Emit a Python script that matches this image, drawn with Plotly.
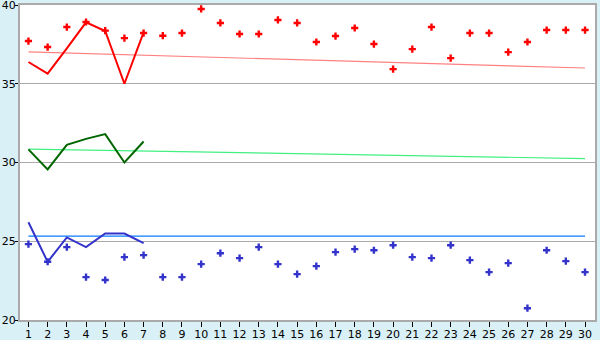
import plotly.graph_objects as go

days = list(range(1, 31))
red_points = [37.71, 37.33, 38.60, 38.92, 38.37, 37.90, 38.22, 38.05, 38.22, 39.75,
              38.86, 38.16, 38.16, 39.05, 38.86, 37.65, 38.03, 38.54, 37.52, 35.93,
              37.20, 38.60, 36.63, 38.22, 38.22, 37.01, 37.65, 38.41, 38.41, 38.41]
blue_points = [24.82, 23.70, 24.63, 22.72, 22.54, 23.99, 24.12, 22.72, 22.72, 23.55,
               24.24, 23.93, 24.63, 23.55, 22.91, 23.42, 24.31, 24.50, 24.43, 24.75,
               23.99, 23.93, 24.75, 23.80, 23.04, 23.61, 20.75, 24.43, 23.74, 23.04]
line_days = [1, 2, 3, 4, 5, 6, 7]
red_line = [36.38, 35.64, 37.25, 38.90, 38.35, 35.00, 38.26]
green_line = [30.83, 29.56, 31.12, 31.50, 31.80, 30.00, 31.33]
blue_line = [26.21, 23.69, 25.24, 24.63, 25.49, 25.49, 24.88]
trend_days = [1, 30]
red_trend = [37.02, 36.0]
green_trend = [30.85, 30.25]
blue_trend = [25.33, 25.33]
y_ticks = [20, 25, 30, 35, 40]

fig = go.Figure()
fig.add_trace(go.Scatter(x=trend_days, y=red_trend, mode="lines",
                         line=dict(color="#ff8080", width=1.2)))
fig.add_trace(go.Scatter(x=trend_days, y=green_trend, mode="lines",
                         line=dict(color="#40f080", width=1.2)))
fig.add_trace(go.Scatter(x=trend_days, y=blue_trend, mode="lines",
                         line=dict(color="#0a7cff", width=1.2)))
fig.add_trace(go.Scatter(x=days, y=red_points, mode="markers",
                         marker=dict(symbol="cross", size=6, color="#ff0000")))
fig.add_trace(go.Scatter(x=days, y=blue_points, mode="markers",
                         marker=dict(symbol="cross", size=6, color="#3333cc")))
fig.add_trace(go.Scatter(x=line_days, y=red_line, mode="lines",
                         line=dict(color="#ff0000", width=2)))
fig.add_trace(go.Scatter(x=line_days, y=green_line, mode="lines",
                         line=dict(color="#006600", width=2)))
fig.add_trace(go.Scatter(x=line_days, y=blue_line, mode="lines",
                         line=dict(color="#3333cc", width=2)))

fig.update_layout(
    width=600, height=340,
    margin=dict(l=20, r=5, t=5, b=20),
    paper_bgcolor="#d9f0f7",
    plot_bgcolor="#ffffff",
    showlegend=False,
    font=dict(family="DejaVu Sans", size=11, color="#000000"),
)
fig.update_xaxes(range=[0.56, 30.52], tickmode="array", tickvals=days,
                 ticktext=[str(d) for d in days], showgrid=False, zeroline=False,
                 ticks="outside", ticklen=5, tickcolor="#000000",
                 showline=True, linecolor="#aaaaaa", linewidth=2, mirror=True,
                 tickfont=dict(size=11), automargin=False, ticklabelstandoff=-2,
                 ticklabeloverflow="allow")
fig.update_yaxes(range=[20, 40], tickmode="array", tickvals=y_ticks,
                 ticktext=[str(v) for v in y_ticks], showgrid=True,
                 gridcolor="#aaaaaa", gridwidth=1, zeroline=False,
                 ticks="outside", ticklen=3, tickcolor="#000000",
                 showline=True, linecolor="#aaaaaa", linewidth=2, mirror=True,
                 tickfont=dict(size=11), automargin=False, ticklabelstandoff=-3,
                 ticklabeloverflow="allow")

fig.write_html("out.html")
